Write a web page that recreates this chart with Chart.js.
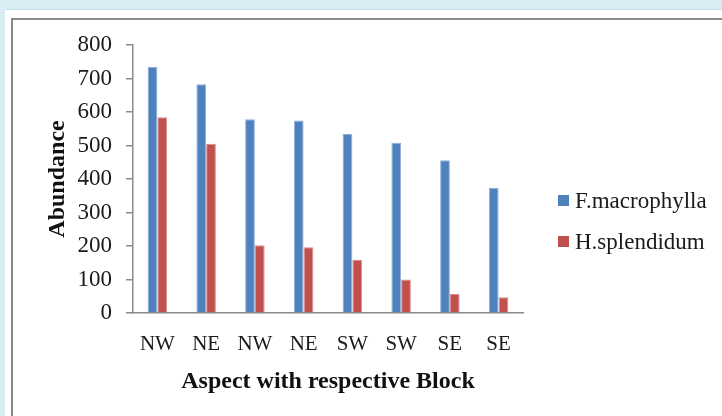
<!DOCTYPE html>
<html>
<head>
<meta charset="utf-8">
<script src="https://cdn.jsdelivr.net/npm/chart.js@4"></script>
<style>
  body { margin: 0; background: #d8ecf2; }
  .wrap { position: relative; width: 722px; height: 416px; overflow: hidden; }
  .panel { position: absolute; left: 5px; top: 9px; right: 0; bottom: 0; background: #fff; border-top: 1px solid #c9dfe7; }
  .frame { position: absolute; left: 11px; top: 18px; width: 800px; height: 500px; border-left: 2px solid #8a8a8a; border-top: 2px solid #8a8a8a; }
  .chart-box { position: absolute; left: 0; top: 0; width: 722px; height: 416px; }
</style>
</head>
<body>
<div class="wrap">
  <div class="panel"></div>
  <div class="frame"></div>
  <div class="chart-box"><canvas id="barChart"></canvas></div>
</div>
<script>
// 방위별 개체수 데이터
const labels = ['NW', 'NE', 'NW', 'NE', 'SW', 'SW', 'SE', 'SE'];
const macrophylla = [735, 683, 578, 575, 534, 508, 456, 374];
const splendidum = [584, 505, 202, 196, 159, 100, 57, 47];
const seriesNames = ['F.macrophylla', 'H.splendidum'];
const colors = ['#4f81bd', '#c0504d'];
const edgeColors = ['#8eaedb', '#dc8c8a'];
const yTicks = [0, 100, 200, 300, 400, 500, 600, 700, 800];

const serif = '"Liberation Serif", "Times New Roman", serif';

// 오른쪽 범례 (직접 그림)
const sideLegend = {
  id: 'sideLegend',
  afterDraw(chart) {
    const ctx = chart.ctx;
    ctx.save();
    chart.data.datasets.forEach((ds, i) => {
      const y = 201 + i * 41;
      ctx.fillStyle = ds.backgroundColor;
      ctx.fillRect(558, y - 6, 11, 11);
      ctx.fillStyle = '#1a1a1a';
      ctx.font = '23px ' + serif;
      ctx.textBaseline = 'middle';
      ctx.textAlign = 'left';
      ctx.fillText(ds.label, 575, y + 1);
    });
    ctx.restore();
  },
};

const datasets = [macrophylla, splendidum].map((values, index) => ({
  label: seriesNames[index],
  data: values,
  backgroundColor: colors[index],
  borderColor: edgeColors[index],
  borderWidth: 1,
  categoryPercentage: 0.4,
  barPercentage: 1.0,
}));

const ctx = document.getElementById('barChart').getContext('2d');
new Chart(ctx, {
  type: 'bar',
  data: { labels, datasets },
  options: {
    responsive: true,
    maintainAspectRatio: false,
    animation: false,
    layout: {
      padding: { left: 0, top: 45, right: 199, bottom: 0 },
    },
    plugins: {
      legend: { display: false },
      tooltip: { enabled: false },
    },
    scales: {
      x: {
        grid: { display: false, drawTicks: false },
        border: { color: '#8a8a8a', width: 1.5 },
        ticks: {
          color: '#1a1a1a',
          font: { family: serif, size: 21 },
          padding: 19,
          maxRotation: 0,
          autoSkip: false,
        },
        title: {
          display: true,
          text: 'Aspect with respective Block',
          color: '#111',
          font: { family: serif, size: 24, weight: 'bold' },
          padding: { top: 0, bottom: 20 },
        },
        afterFit: (scale) => {
          scale.height = 103;
        },
      },
      y: {
        min: 0,
        max: 800,
        afterBuildTicks: (scale) => {
          scale.ticks = yTicks.map((v) => ({ value: v }));
        },
        grid: {
          drawOnChartArea: false,
          drawTicks: true,
          tickLength: 7,
          color: '#8a8a8a',
          lineWidth: 1.5,
        },
        border: { color: '#8a8a8a', width: 1.5 },
        ticks: {
          color: '#1a1a1a',
          font: { family: serif, size: 23 },
          padding: 14,
        },
        title: {
          display: true,
          text: 'Abundance',
          color: '#111',
          font: { family: serif, size: 24, weight: 'bold' },
          padding: { top: 43, bottom: 0 },
        },
        afterFit: (scale) => {
          scale.width = 133;
        },
      },
    },
  },
  plugins: [sideLegend],
});
</script>
</body>
</html>
